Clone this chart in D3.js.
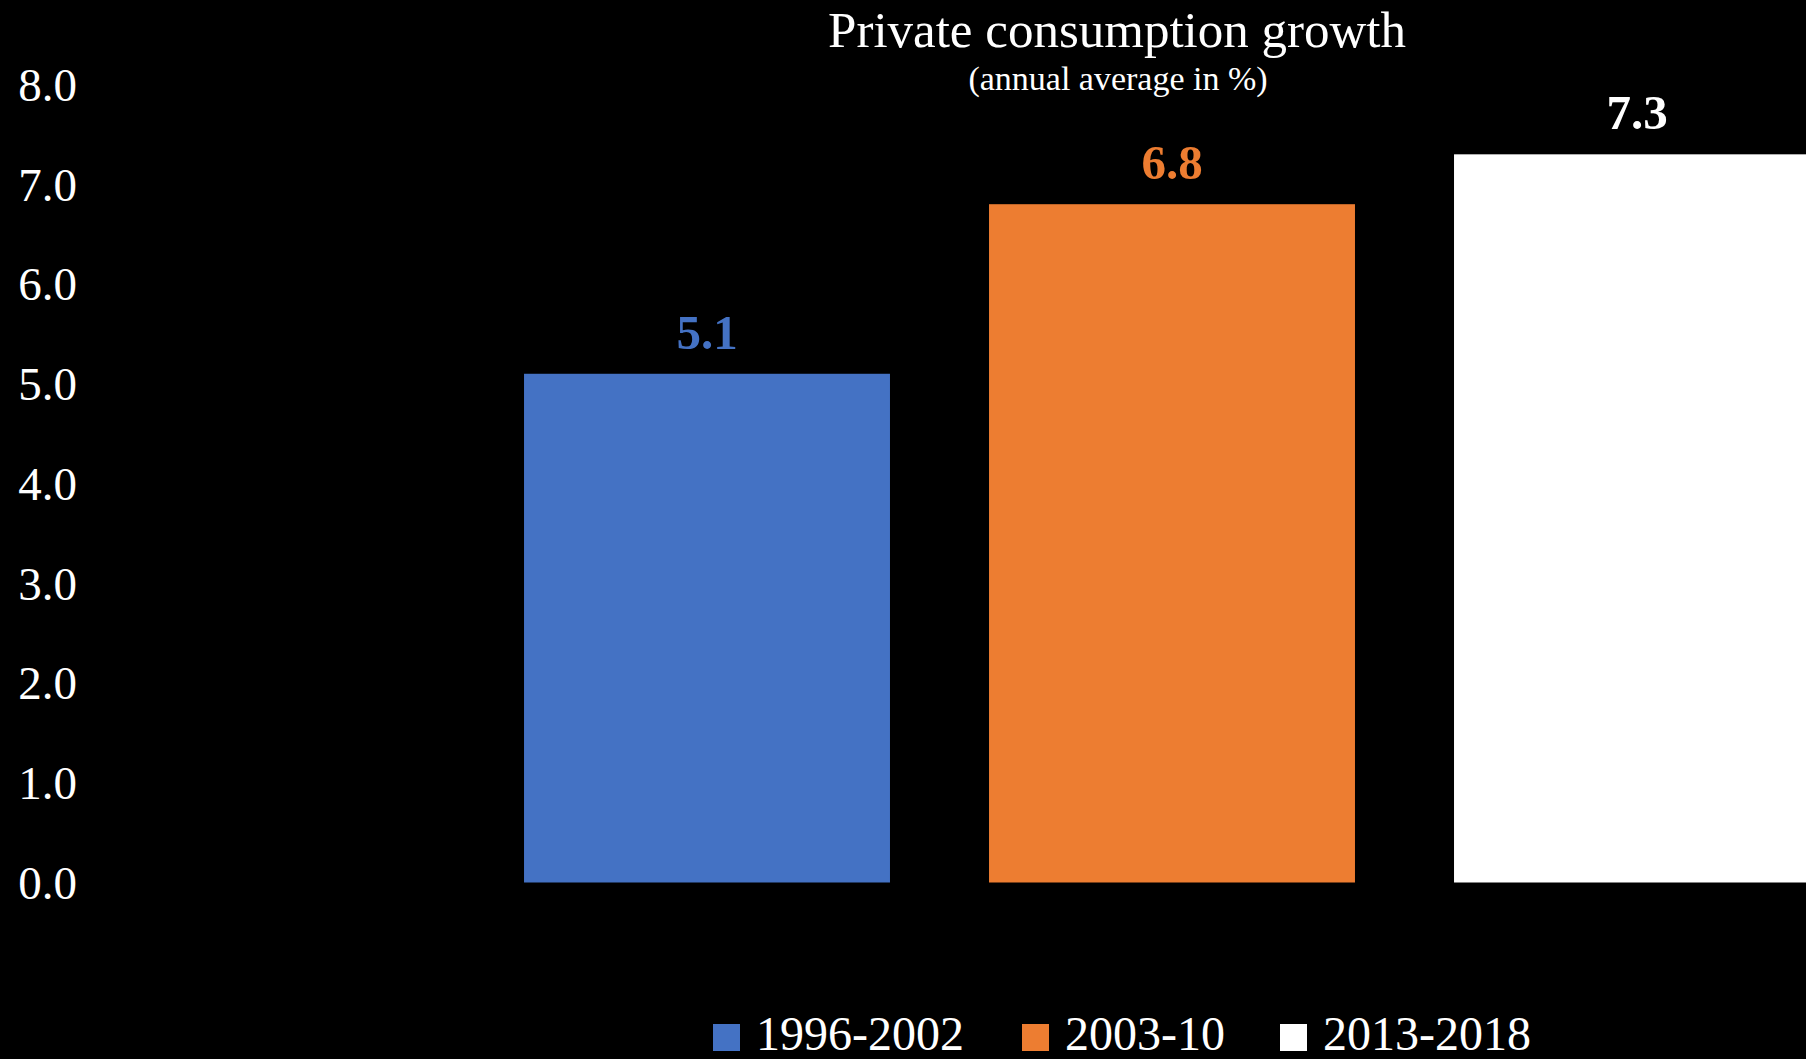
<!DOCTYPE html>
<html>
<head>
<meta charset="utf-8">
<script src="https://cdn.jsdelivr.net/npm/d3@7"></script>
<style>
  html, body { margin: 0; padding: 0; background: #000; }
  svg { display: block; }
  text { font-family: "Liberation Serif", "Times New Roman", serif; fill: #fff; }
</style>
</head>
<body>
<svg id="chart" width="1806" height="1059"></svg>
<script>
// Average annual private consumption growth by period (%)
const periods = ["1996-2002", "2003-10", "2013-2018"];
const growth = [5.1, 6.8, 7.3];
const colors = ["#4472C4", "#ED7D31", "#FFFFFF"];
const yTicks = [0, 1, 2, 3, 4, 5, 6, 7, 8];

const svg = d3.select("#chart");
const W = 1806, H = 1059;

svg.append("rect").attr("width", W).attr("height", H).attr("fill", "#000");

const y = d3.scaleLinear().domain([0, 8]).range([882.5, 84.5]);
const x = d3.scaleBand()
  .domain(periods)
  .range([474.5, 1869.5])
  .paddingInner(0.213)
  .paddingOuter(0.1065);

// Y axis: labels only, no line or tick marks
const yAxis = d3.axisLeft(y)
  .tickValues(yTicks)
  .tickSize(0)
  .tickPadding(0)
  .tickFormat(d3.format(".1f"));

const gy = svg.append("g").attr("transform", "translate(77,0)").call(yAxis);
gy.select(".domain").remove();
gy.selectAll("text")
  .attr("fill", "#fff")
  .style("font-family", "'Liberation Serif', serif")
  .style("font-size", "47px")
  .attr("dy", "0.34em");

// Bars
const data = periods.map((p, i) => ({ period: p, value: growth[i], color: colors[i] }));

svg.append("g").selectAll("rect")
  .data(data)
  .join("rect")
  .attr("x", d => x(d.period))
  .attr("y", d => y(d.value))
  .attr("width", x.bandwidth())
  .attr("height", d => y(0) - y(d.value))
  .attr("fill", d => d.color);

// Value labels above bars
svg.append("g").selectAll("text")
  .data(data)
  .join("text")
  .attr("x", d => x(d.period) + x.bandwidth() / 2)
  .attr("y", d => y(d.value) - 25)
  .attr("text-anchor", "middle")
  .style("font-size", "49px")
  .style("font-weight", "bold")
  .style("fill", d => d.color)
  .text(d => d3.format(".1f")(d.value));

// Title
svg.append("text")
  .attr("x", 1117).attr("y", 47)
  .attr("text-anchor", "middle")
  .style("font-size", "51px")
  .text("Private consumption growth");

svg.append("text")
  .attr("x", 1118).attr("y", 90)
  .attr("text-anchor", "middle")
  .style("font-size", "34px")
  .text("(annual average in %)");

// Legend along the bottom
const legendX = [713, 1022, 1280];
const legend = svg.append("g").selectAll("g")
  .data(data)
  .join("g")
  .attr("transform", (d, i) => `translate(${legendX[i]},0)`);

legend.append("rect")
  .attr("x", 0).attr("y", 1024)
  .attr("width", 27).attr("height", 27)
  .attr("fill", d => d.color);

legend.append("text")
  .attr("x", 43).attr("y", 1050)
  .style("font-size", "48px")
  .text(d => d.period);
</script>
</body>
</html>
